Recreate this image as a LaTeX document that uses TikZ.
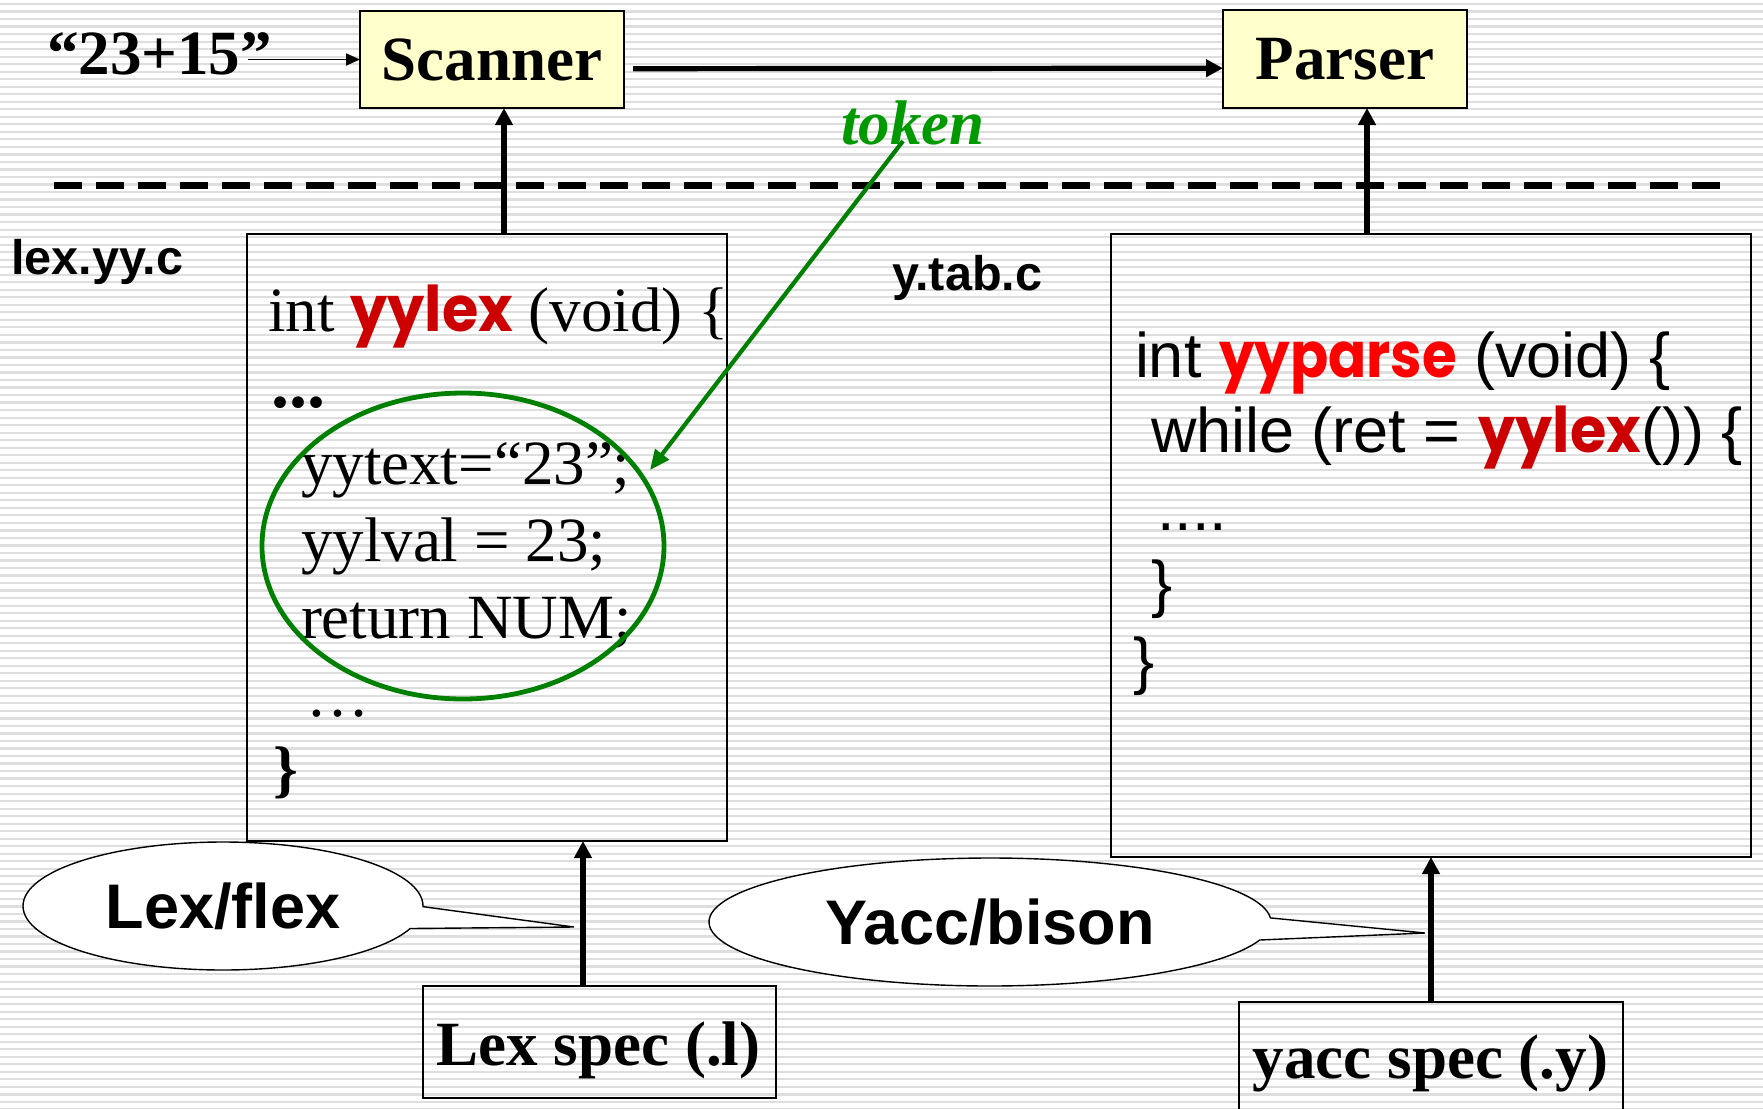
\documentclass[tikz,border=0pt]{standalone}
\usepackage{fontspec}
\setmainfont{Liberation Serif}
\newfontfamily\arialf{Liberation Sans}
\newfontfamily\comic{Poppins}
\usetikzlibrary{arrows.meta,shapes.geometric,shapes.callouts}

\definecolor{yellowbox}{RGB}{255,255,204}
\definecolor{stripegray}{RGB}{222,222,222}
\definecolor{tokengreen}{RGB}{0,153,0}
\definecolor{markgreen}{RGB}{0,128,0}
\definecolor{lexred}{RGB}{204,0,0}
\definecolor{parsered}{RGB}{255,0,0}

% font shortcuts
\newcommand\tbig{\fontsize{31.5pt}{36pt}\selectfont\bfseries}
\newcommand\tcode{\fontsize{31.5pt}{36pt}\selectfont}
\newcommand\asmall{\arialf\bfseries\fontsize{24.3pt}{28pt}\selectfont}
\newcommand\abig{\arialf\bfseries\fontsize{31.5pt}{36pt}\selectfont}
\newcommand\acode{\arialf\fontsize{31.5pt}{36pt}\selectfont}
% function names in a rounded hand-like face, slightly condensed
\newcommand\fname[3]{{\comic\bfseries\color{#1}\scalebox{#2}[1]{#3}}}

\begin{document}
\begin{tikzpicture}[x=0.5pt,y=-0.5pt,
  every node/.style={inner sep=0pt, outer sep=0pt},
  stage/.style={draw, line width=1.3pt, fill=yellowbox},
  codebox/.style={draw, line width=1pt},
  specbox/.style={draw, line width=1pt},
  stripe/.style={draw=stripegray, line width=1.1pt},
  divider/.style={line width=3.1pt, dash pattern=on 14pt off 7pt},
  bigarrow/.style={line width=2.6pt, -{Triangle[length=8.5pt,width=8.5pt]}},
  thinarrow/.style={line width=0.9pt, -{Triangle[length=7pt,width=6pt]}},
  greenarrow/.style={draw=markgreen, line width=2.1pt, -{Triangle[length=10pt,width=8.5pt]}},
  bubble/.style={ellipse callout, draw, fill=white, line width=0.7pt, callout pointer arc=20},
]
\useasboundingbox (0,0) rectangle (1763,1109);
\clip (0,0) rectangle (1763,1109);

% ruled background
\fill[white] (0,0) rectangle (1763,1109);
\foreach \k in {0,...,147} \draw[stripe] (0,{4+7.52*\k}) -- (1763,{4+7.52*\k});

% divider between tools and generated code
\coordinate (dashL) at (54,185.5);
\coordinate (dashR) at (1720,185.5);
\draw[divider] (dashL) -- (dashR);

% scanner and parser
\node[stage, minimum width=132pt, minimum height=48.5pt] (scanner) at (492,59.5) {\tbig Scanner};
\node[stage, minimum width=122pt, minimum height=49pt] (parser) at (1345,59) {\tbig Parser};
\node[anchor=base west] (input) at (47,74) {\tbig “23+15”};
\coordinate (inEnd) at (248,59.5);
\draw[thinarrow] (inEnd) -- (scanner.west);
\draw[bigarrow] ([xshift=4.5pt,yshift=-4.6pt]scanner.east) -- ([yshift=-4.6pt]parser.west);

% generated code boxes
\node[codebox, minimum width=240pt, minimum height=303.5pt] (lexbox) at (487,537.5) {};
\node[codebox, minimum width=320pt, minimum height=311.5pt] (yaccbox) at (1431,545.5) {};
\coordinate (lexUp) at (504,0);
\coordinate (yaccUp) at (1367,0);
\draw[bigarrow] (lexbox.north -| lexUp) -- (scanner.south -| lexUp);
\draw[bigarrow] (yaccbox.north -| yaccUp) -- (parser.south -| yaccUp);

\node[anchor=base west] (lexfile) at (11,274) {\asmall lex.yy.c};
\node[anchor=base west] (yaccfile) at (892,290) {\asmall y.tab.c};

% scanner code
\node[anchor=base west] (l1) at (268,331) {\tcode int \fname{lexred}{0.935}{yylex} (void) \{};
\node[anchor=base west] (l2) at (271,407) {\fontsize{36pt}{40pt}\selectfont\bfseries ...};
\node[anchor=base west] (l3) at (301,484) {\tcode yytext=“23”;};
\node[anchor=base west] (l4) at (301,561) {\tcode yylval = 23;};
\node[anchor=base west] (l5) at (301,638) {\tcode return NUM;};
\node[anchor=base west] (l6) at (306,716) {\tcode …};
\node[anchor=base west] (l7) at (273,790) {\tcode\bfseries \}};

% parser code
\node[anchor=base west] (r1) at (1135,377) {\acode int \fname{parsered}{0.894}{yyparse} (void) \{};
\node[anchor=base west] (r2) at (1151,452) {\acode while (ret = \fname{lexred}{0.935}{yylex}()) \{};
\node[anchor=base west] (r3) at (1157,530) {\acode ....};
\node[anchor=base west] (r4) at (1151,605) {\acode \}};
\node[anchor=base west] (r5) at (1133,682) {\acode \}};

% specification files
\node[specbox, minimum width=176.5pt, minimum height=56pt] (lexspec) at (599.5,1042) {};
\node[specbox, minimum width=192pt, minimum height=70pt] (yaccspec) at (1431,1072) {};
\node[anchor=base] (lexspectxt) at (598.5,1065) {\tbig Lex spec (.l)};
\node[anchor=base] (yaccspectxt) at (1430.5,1078) {\tbig yacc spec (.y)};
\coordinate (lexSpecUp) at (583,0);
\draw[bigarrow] (lexspec.north -| lexSpecUp) -- (lexbox.south -| lexSpecUp);
\draw[bigarrow] (yaccspec.north) -- (yaccbox.south);

% tool callouts
\coordinate (lexTip) at (574,927);
\coordinate (yaccTip) at (1425,933);
\node[bubble, minimum width=200pt, minimum height=64pt, callout absolute pointer={(lexTip)}] (lexflex) at (223,906) {\abig Lex/flex};
\node[bubble, minimum width=281pt, minimum height=64pt, callout absolute pointer={(yaccTip)}] (yaccbison) at (990,922) {\abig Yacc/bison};

% token returned to the parser
\node[anchor=base west, text=tokengreen] (token) at (841,144) {\tbig\itshape token};
\node[draw=markgreen, line width=2.4pt, ellipse, minimum width=201pt, minimum height=153pt] (focus) at (463,546) {};
\coordinate (tokFrom) at (903,141);
\coordinate (tokTo) at (650,470);
\draw[greenarrow] (tokFrom) -- (tokTo);
\end{tikzpicture}
\end{document}
